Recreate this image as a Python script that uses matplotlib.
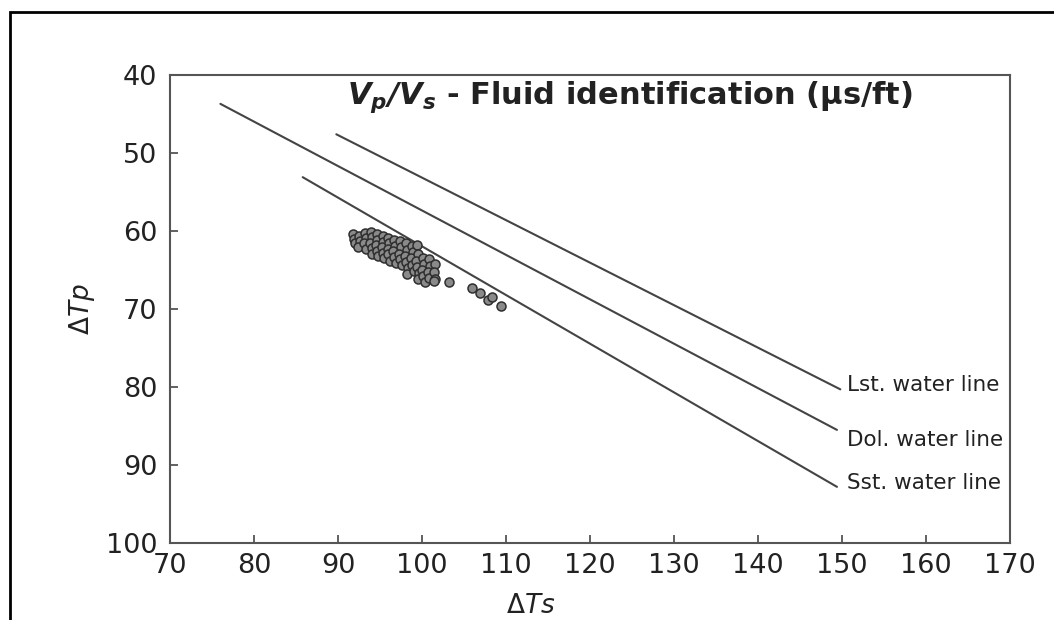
import matplotlib
matplotlib.use("Agg")
import matplotlib.pyplot as plt
from matplotlib.patches import Rectangle

plt.rcParams['font.family'] = ['DejaVu Sans']
plt.rcParams['mathtext.fontset'] = 'custom'
plt.rcParams['mathtext.rm'] = 'DejaVu Sans'
plt.rcParams['mathtext.it'] = 'DejaVu Sans:italic'
plt.rcParams['mathtext.bf'] = 'DejaVu Sans:bold'
plt.rcParams['mathtext.bfit'] = 'DejaVu Sans:italic:bold'

# ---- data ----
dts = [91.8, 91.9, 92.0, 92.5, 92.6, 92.4, 93.2, 93.3, 93.1, 93.3,
       93.9, 94.0, 93.8, 94.0, 94.1, 94.6, 94.7, 94.5, 94.6, 94.8,
       95.3, 95.4, 95.2, 95.3, 95.5, 96.0, 96.1, 95.9, 96.0, 96.2,
       96.7, 96.8, 96.6, 96.7, 96.9, 97.4, 97.5, 97.3, 97.4, 97.6,
       98.1, 98.2, 98.0, 98.1, 98.3, 98.2, 98.8, 98.9, 98.7, 98.8, 99.0,
       99.4, 99.5, 99.3, 99.4, 99.6, 99.5, 100.1, 100.2, 100.0, 100.1, 100.3,
       100.8, 100.9, 100.7, 100.8, 101.5, 101.4, 101.6,
       101.4, 103.2, 106.0, 106.9, 107.9, 108.3, 109.4]
dtp = [60.4, 61.0, 61.6, 60.6, 61.3, 62.0, 60.2, 60.9, 61.6, 62.3,
       60.1, 60.8, 61.5, 62.2, 62.9, 60.4, 61.1, 61.8, 62.5, 63.2,
       60.6, 61.4, 62.1, 62.8, 63.5, 60.9, 61.6, 62.3, 63.0, 63.8,
       61.2, 61.9, 62.6, 63.3, 64.1, 61.3, 62.1, 62.9, 63.6, 64.4,
       61.6, 62.4, 63.2, 64.0, 64.8, 65.5, 61.9, 62.7, 63.5, 64.3, 65.1,
       61.8, 63.0, 63.8, 64.6, 65.4, 66.2, 63.4, 64.2, 65.0, 65.8, 66.5,
       63.6, 64.5, 65.3, 66.0, 64.2, 65.2, 66.2,
       66.4, 66.5, 67.3, 67.9, 68.8, 68.5, 69.6]

line_names = ["Lst. water line", "Dol. water line", "Sst. water line"]
line_dts = [[89.8, 149.8], [76.0, 149.4], [85.8, 149.4]]
line_dtp = [[47.6, 80.3], [43.7, 85.5], [53.1, 92.8]]
label_dtp = [79.7, 86.8, 92.3]

xticks = [70, 80, 90, 100, 110, 120, 130, 140, 150, 160, 170]
yticks = [40, 50, 60, 70, 80, 90, 100]

# ---- figure ----
W, H = 1054, 620
fig = plt.figure(figsize=(W / 100, H / 100), dpi=100)
fig.patches.append(Rectangle((10 / W, -0.1), 1.2, (H - 12) / H + 0.1,
                             transform=fig.transFigure, fill=False,
                             edgecolor='black', linewidth=2.0, zorder=0))

ax = fig.add_axes([170 / W, 1 - 543 / H, 840 / W, 468 / H])
ax.set_xlim(70, 170)
ax.set_ylim(100, 40)

for s in ax.spines.values():
    s.set_color('#555555')
    s.set_linewidth(1.5)

ax.set_xticks(xticks)
ax.set_yticks(yticks)
ax.tick_params(direction='in', length=6, width=1.3, color='#555555',
               top=False, right=False, labelsize=19.5, labelcolor='#222222')
ax.tick_params(axis='x', pad=7)
ax.tick_params(axis='y', pad=9)

for xs, ys, name, ly in zip(line_dts, line_dtp, line_names, label_dtp):
    ax.plot(xs, ys, color='#444444', linewidth=1.5, solid_capstyle='round')
    ax.text(150.6, ly, name, fontsize=15.5, color='#222222',
            ha='left', va='center')

ax.scatter(dts, dtp, s=42, facecolor='#8a8a8a', edgecolor='#2e2e2e',
           linewidth=1.1, zorder=3)

ax.text(91.1, 42.8, r"$\mathbfit{V_p/V_s}$ - Fluid identification (μs/ft)",
        fontsize=22, fontweight='bold', color='#222222', ha='left', va='center')

ax.set_xlabel(r"$\Delta Ts$", fontsize=19, color='#222222')
ax.xaxis.set_label_coords((531 - 170) / 840, -0.107)
ax.set_ylabel(r"$\Delta Tp$", fontsize=19, color='#222222', va='center')
ax.yaxis.set_label_coords((82 - 170) / 840, 0.5)

fig.savefig("out.png", dpi=100)
